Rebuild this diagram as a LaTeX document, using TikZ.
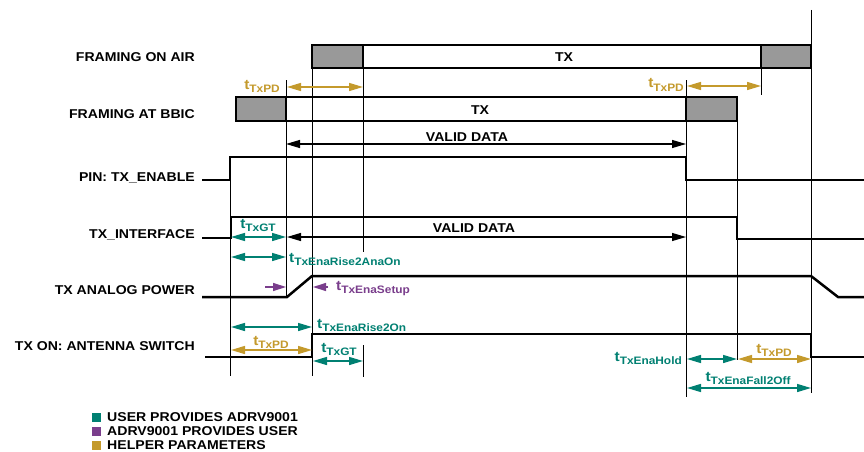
\documentclass[tikz,border=0pt]{standalone}
\usepackage{fontspec}
\setmainfont{Liberation Sans}[FakeStretch=1.1]
\usetikzlibrary{arrows.meta}
\definecolor{tealc}{RGB}{0,128,114}
\definecolor{purp}{RGB}{122,62,140}
\definecolor{goldc}{RGB}{196,154,44}
\definecolor{greyf}{RGB}{153,153,153}
\newcommand{\tsub}[1]{{\fontsize{14}{14}\selectfont t}\raisebox{-3pt}{\fontsize{10.8}{11}\selectfont #1}}
\begin{document}
\begin{tikzpicture}[x=1pt,y=-1pt,
  lbl/.style={font=\bfseries\fontsize{12.8}{13}\selectfont, inner sep=0pt, anchor=base east},
  txt/.style={font=\bfseries\fontsize{12.8}{13}\selectfont, inner sep=0pt, anchor=base},
  tl/.style={font=\bfseries, inner sep=0pt, anchor=base},
  sig/.style={line width=2.5pt, line join=miter},
  guide/.style={line width=0.9pt},
  frame/.style={draw, line width=2.6pt, line join=miter},
  tip/.style={Triangle[length=14pt,width=8pt]},
  tarr/.style={tealc, line width=1.4pt, {Triangle[length=14pt,width=8pt]}-{Triangle[length=14pt,width=8pt]}},
  garr/.style={goldc, line width=1.4pt, {Triangle[length=14pt,width=8pt]}-{Triangle[length=14pt,width=8pt]}},
  barr/.style={black, line width=1.1pt, {Triangle[length=14pt,width=8pt]}-{Triangle[length=14pt,width=8pt]}},
  parr/.style={purp, line width=1.4pt, -{Triangle[length=13pt,width=8pt]}},
  legsq/.style={minimum size=9pt, inner sep=0pt, anchor=north west}
]
\fill[white] (0,0) rectangle (864,452);
\useasboundingbox (0,0) rectangle (864,452);

% time marks
\coordinate (A) at (230,0);
\coordinate (B) at (286,0);
\coordinate (C) at (312,0);
\coordinate (D) at (363,0);
\coordinate (E) at (686,0);
\coordinate (F) at (737,0);
\coordinate (G) at (761,0);
\coordinate (H) at (811,0);

% framing on air
\fill[greyf] (312,45) rectangle (363,68);
\fill[greyf] (761,45) rectangle (811,68);
\draw[frame] (312,45) rectangle (811,68);
\draw[frame] (363,45) -- (363,68) (761,45) -- (761,68);
\node[txt] (txair) at (564,62) {TX};

% framing at bbic
\fill[greyf] (236,97) rectangle (286,121);
\fill[greyf] (686,97) rectangle (737,121);
\draw[frame] (236,97) rectangle (737,121);
\draw[frame] (286,97) -- (286,121) (686,97) -- (686,121);
\node[txt] (txbbic) at (480,114.5) {TX};

% guide lines
\draw[guide] (230,157) -- (230,376);
\draw[guide] (286,80) -- (286,297);
\draw[guide] (312,68) -- (312,376);
\draw[guide] (363,68) -- (363,252);
\draw[guide] (363,345) -- (363,377);
\draw[guide] (686,80) -- (686,397);
\draw[guide] (737,121) -- (737,360);
\draw[guide] (761,68) -- (761,95);
\draw[guide] (811,10) -- (811,393);

% row labels
\node[lbl] (l1) at (195,61) {FRAMING ON AIR};
\node[lbl] (l2) at (195,118) {FRAMING AT BBIC};
\node[lbl] (l3) at (195,181) {PIN: TX\_ENABLE};
\node[lbl] (l4) at (195,238) {TX\_INTERFACE};
\node[lbl] (l5) at (195,294) {TX ANALOG POWER};
\node[lbl] (l6) at (195,350) {TX ON: ANTENNA SWITCH};

% signals
\draw[sig] (202,180) -- (230,180) -- (230,157) -- (686,157) -- (686,180) -- (864,180);
\draw[sig] (202,238) -- (231,238) -- (231,217) -- (737,217) -- (737,239) -- (864,239);
\draw[sig] (202,297) -- (287,297) -- (312,276) -- (811,276) -- (838,297) -- (864,297);
\draw[sig] (205,357) -- (312,357) -- (312,334) -- (811,334) -- (811,357) -- (864,357);

% top tTxPD
\draw[garr] (287,87) -- (363,87);
\node[tl, goldc, anchor=base east] (pd1) at (280,89) {\tsub{TxPD}};
\draw[garr] (687,86) -- (761,86);
\node[tl, goldc, anchor=base east] (pd2) at (684,88) {\tsub{TxPD}};

% valid data (top)
\draw[barr] (286,144) -- (686,144);
\node[txt] (vd1) at (467,141) {VALID DATA};

% tx interface
\draw[tarr] (231,237) -- (286,237);
\node[tl, tealc] (gt1) at (258,228) {\tsub{TxGT}};
\draw[barr, {Triangle[length=14pt,width=8pt]}-{Triangle[length=14pt,width=8pt]}] (287,237) -- (686,237);
\node[txt] (vd2) at (474,232.5) {VALID DATA};

% rise2anaon
\draw[tarr] (231,257) -- (286,257);
\node[tl, tealc, anchor=base west] (ra) at (289,262) {\tsub{TxEnaRise2AnaOn}};

% setup
\draw[parr] (265,287) -- (286,287);
\draw[parr] (328,287) -- (313,287);
\node[tl, purp, anchor=base west] (su) at (336,290) {\tsub{TxEnaSetup}};

% antenna switch
\draw[tarr] (231,327) -- (312,327);
\node[tl, tealc, anchor=base west] (r2on) at (317,328) {\tsub{TxEnaRise2On}};
\draw[garr] (231,350) -- (312,350);
\node[tl, goldc] (pd3) at (271,345) {\tsub{TxPD}};
\draw[tarr] (313,361) -- (363,361);
\node[tl, tealc] (gt2) at (339,352) {\tsub{TxGT}};

% right side
\draw[tarr] (687,359) -- (737,359);
\node[tl, tealc, anchor=base east] (hold) at (682,361) {\tsub{TxEnaHold}};
\draw[garr] (738,359) -- (811,359);
\node[tl, goldc] (pd4) at (774,353) {\tsub{TxPD}};
\draw[tarr] (687,388) -- (811,388);
\node[tl, tealc] (f2o) at (748,381) {\tsub{TxEnaFall2Off}};

% legend
\node[legsq, fill=tealc] (s1) at (92,413) {};
\node[legsq, fill=purp] (s2) at (92,427) {};
\node[legsq, fill=goldc] (s3) at (92,441) {};
\node[txt, anchor=base west] (t1) at (107,421) {USER PROVIDES ADRV9001};
\node[txt, anchor=base west] (t2) at (107,435) {ADRV9001 PROVIDES USER};
\node[txt, anchor=base west] (t3) at (107,449) {HELPER PARAMETERS};
\end{tikzpicture}
\end{document}
